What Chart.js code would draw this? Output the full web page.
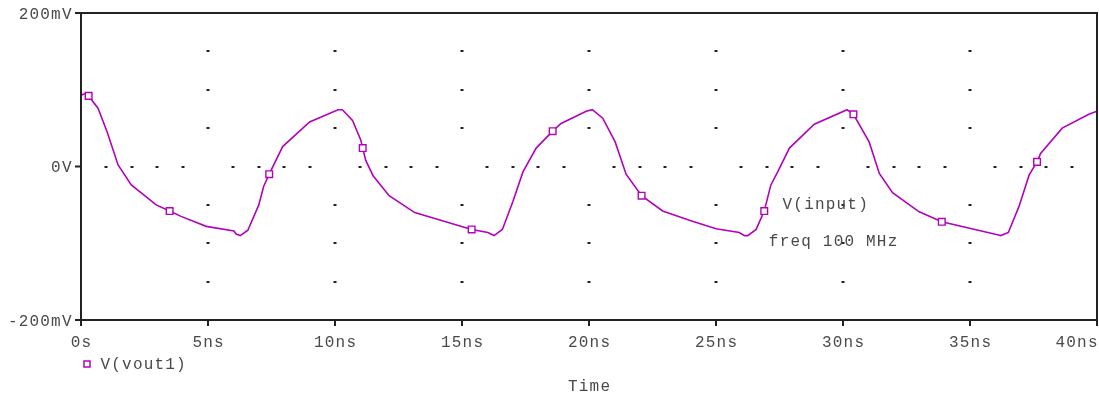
<!DOCTYPE html>
<html>
<head>
<meta charset="utf-8">
<script src="https://cdn.jsdelivr.net/npm/chart.js@4/dist/chart.umd.min.js"></script>
<style>
  html, body { margin: 0; padding: 0; background: #ffffff; }
  canvas { display: block; }
</style>
</head>
<body>
<canvas id="plot" width="1099" height="393"></canvas>
<script>
// Transient simulation result: V(vout1) in mV against time in ns
const timeNs = [
  0.00, 0.17, 0.30, 0.67, 1.03, 1.46, 1.98, 2.96, 3.49, 3.94, 4.93, 6.02, 6.11, 6.27, 6.57,
  7.00, 7.19, 7.41, 7.94, 9.00, 10.12, 10.29, 10.69, 11.01, 11.09, 11.21, 11.50, 12.13, 13.14,
  15.38, 16.02, 16.26, 16.59, 17.00, 17.40, 17.92, 18.57, 18.90, 19.89, 20.13, 20.54, 21.03,
  21.46, 22.07, 22.90, 23.95, 25.00, 25.92, 26.12, 26.25, 26.58, 26.90, 27.16, 27.43, 27.89,
  28.87, 30.16, 30.41, 31.03, 31.43, 31.95, 33.00, 33.89, 36.08, 36.21, 36.51, 36.93, 37.33,
  37.64, 37.78, 38.63, 39.68, 40.00
];
const voutMv = [
  93, 95, 92, 76, 45, 2, -24, -50, -58, -65, -78, -84, -88, -90, -83,
  -50, -26, -10, 26, 58, 74, 74, 60, 35, 24, 8, -12, -38, -60,
  -82, -86, -90, -82, -46, -7, 24, 46, 56, 72, 74, 63, 32,
  -10, -38, -58, -70, -81, -86, -90, -90, -82, -58, -24, -7, 24,
  55, 74, 68, 32, -9, -34, -59, -72, -89, -90, -86, -52, -11,
  6, 17, 50, 68, 72
];
// Samples that carry the square trace marker
const markerNs = [0.30, 3.49, 7.41, 11.09, 15.38, 18.57, 22.07, 26.90, 30.41, 33.89, 37.64];

const xTickNs = [0, 5, 10, 15, 20, 25, 30, 35, 40];
const xTickLabels = ['0s', '5ns', '10ns', '15ns', '20ns', '25ns', '30ns', '35ns', '40ns'];
const yTickMv = [-200, 0, 200];
const yTickLabels = ['-200mV', '0V', '200mV'];
const yGridMv = [-150, -100, -50, 50, 100, 150];
const traceName = 'V(vout1)';
const axisTitle = 'Time';
const noteLines = ['V(input)', 'freq 100 MHz'];

const TRACE = '#b004b8';
const INK = '#222222';
const TEXT = '#4a4a4a';
const FONT = '16px "Liberation Mono", "DejaVu Sans Mono", monospace';
const SPACING = 1.2;

function drawText(ctx, s, x, y, align) {
  ctx.save();
  ctx.font = FONT;
  ctx.letterSpacing = SPACING + 'px';
  ctx.fillStyle = TEXT;
  ctx.textBaseline = 'alphabetic';
  ctx.textAlign = 'left';
  const w = ctx.measureText(s).width - SPACING;
  let x0 = x;
  if (align === 'center') x0 = x - w / 2;
  else if (align === 'right') x0 = x - w;
  ctx.fillText(s, x0, y);
  ctx.restore();
}

// Dotted probe-style grid, frame, ticks and all text
const probeFrame = {
  id: 'probeFrame',
  beforeDatasetsDraw(chart) {
    const { ctx, scales: { x, y } } = chart;
    ctx.save();
    ctx.fillStyle = INK;
    const dot = (px, py) => ctx.fillRect(Math.round(px) - 1.5, Math.round(py) - 1, 3, 2);
    for (let t = 5; t < 40; t += 5) {
      for (const v of yGridMv) dot(x.getPixelForValue(t), y.getPixelForValue(v));
    }
    for (let t = 1; t < 40; t++) {
      if (t % 5 !== 0) dot(x.getPixelForValue(t), y.getPixelForValue(0));
    }
    ctx.restore();
  },
  afterDatasetsDraw(chart) {
    const { ctx, chartArea: a, scales: { x, y } } = chart;
    ctx.save();
    ctx.strokeStyle = INK;
    ctx.lineWidth = 2;
    ctx.strokeRect(a.left, a.top, a.right - a.left, a.bottom - a.top);
    ctx.beginPath();
    xTickNs.forEach(t => {
      const px = x.getPixelForValue(t);
      ctx.moveTo(px, a.bottom);
      ctx.lineTo(px, a.bottom + 6);
    });
    yTickMv.forEach(v => {
      const py = y.getPixelForValue(v);
      ctx.moveTo(a.left, py);
      ctx.lineTo(a.left - 6, py);
    });
    ctx.stroke();
    ctx.restore();

    xTickNs.forEach((t, i) => {
      const px = x.getPixelForValue(t);
      const last = i === xTickNs.length - 1;
      drawText(ctx, xTickLabels[i], last ? a.right + 0.5 : px, a.bottom + 26.5, last ? 'right' : 'center');
    });
    yTickMv.forEach((v, i) => {
      drawText(ctx, yTickLabels[i], a.left - 9.5, y.getPixelForValue(v) + 5.5, 'right');
    });

    // legend entry
    ctx.save();
    ctx.strokeStyle = TRACE;
    ctx.lineWidth = 1.5;
    ctx.strokeRect(84, 361, 6, 6);
    ctx.restore();
    drawText(ctx, traceName, 100.5, 368.5, 'left');

    drawText(ctx, axisTitle, (a.left + a.right) / 2, 391, 'center');

    // annotation beside the third period
    drawText(ctx, noteLines[0], x.getPixelForValue(27.62), y.getPixelForValue(-55.5), 'left');
    drawText(ctx, noteLines[1], x.getPixelForValue(27.08), y.getPixelForValue(-103), 'left');
  }
};

new Chart(document.getElementById('plot'), {
  type: 'line',
  data: {
    datasets: [{
      label: traceName,
      data: timeNs.map((t, i) => ({ x: t, y: voutMv[i] })),
      borderColor: TRACE,
      borderWidth: 1.6,
      tension: 0,
      fill: false,
      pointStyle: 'rect',
      pointRadius: c => markerNs.includes(timeNs[c.dataIndex]) ? 4.7 : 0,
      pointHoverRadius: c => markerNs.includes(timeNs[c.dataIndex]) ? 4.7 : 0,
      pointBorderColor: TRACE,
      pointBackgroundColor: '#ffffff',
      pointBorderWidth: 1.4
    }]
  },
  options: {
    responsive: false,
    devicePixelRatio: 1,
    animation: false,
    layout: { padding: { left: 81, right: 2, top: 13, bottom: 73 } },
    plugins: { legend: { display: false }, tooltip: { enabled: false } },
    scales: {
      x: { type: 'linear', min: 0, max: 40, display: false },
      y: { type: 'linear', min: -200, max: 200, display: false }
    }
  },
  plugins: [probeFrame]
});
</script>
</body>
</html>
